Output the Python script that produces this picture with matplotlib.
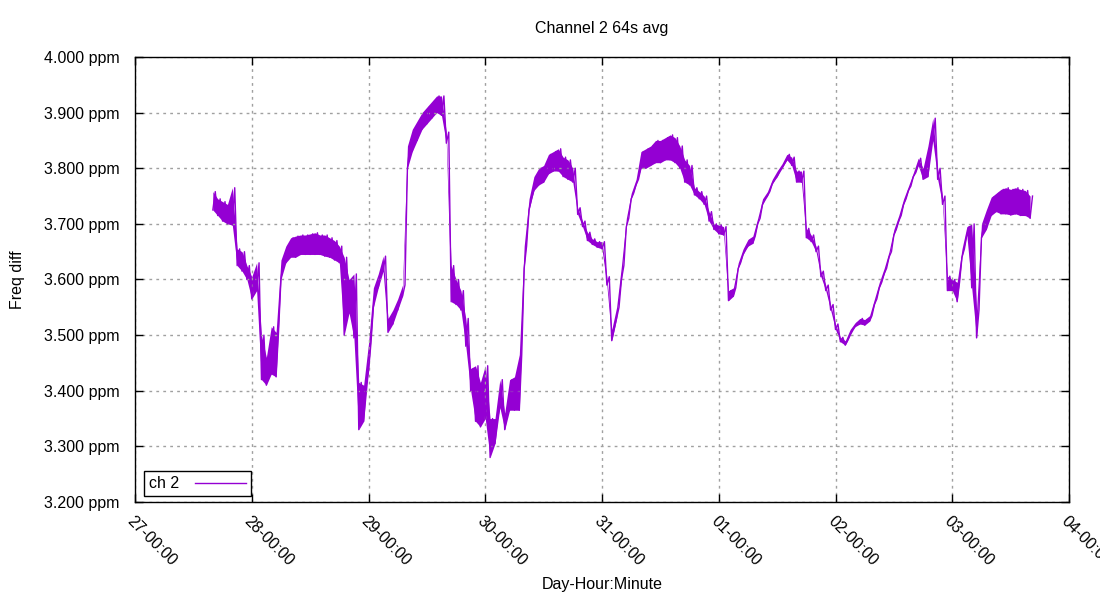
import numpy as np
import pandas as pd
import matplotlib
matplotlib.use("Agg")
import matplotlib.pyplot as plt
import matplotlib.dates as mdates

plt.rcParams["font.family"] = ["Liberation Sans", "DejaVu Sans"]

# -- hourly samples, hours since 27-00:00; each hour has a low and a high reading (noise band)
hours = list(range(16, 185))
ppm_lo = [
    3.725, 3.715, 3.705, 3.700, 3.698, 3.625, 3.615, 3.600, 3.565, 3.580,  # 16-25
    3.420, 3.410, 3.430, 3.425, 3.600, 3.630, 3.640, 3.640, 3.645, 3.645,  # 26-35
    3.645, 3.645, 3.645, 3.642, 3.640, 3.635, 3.630, 3.500, 3.540, 3.495,  # 36-45
    3.330, 3.345, 3.435, 3.550, 3.585, 3.615, 3.505, 3.520, 3.545, 3.570,  # 46-55
    3.800, 3.830, 3.850, 3.870, 3.880, 3.890, 3.900, 3.895, 3.845, 3.560,  # 56-65
    3.555, 3.545, 3.480, 3.400, 3.345, 3.335, 3.350, 3.280, 3.305, 3.370,  # 66-75
    3.330, 3.365, 3.365, 3.365, 3.620, 3.725, 3.760, 3.770, 3.775, 3.790,  # 76-85
    3.795, 3.795, 3.785, 3.780, 3.775, 3.717, 3.695, 3.670, 3.663, 3.658,  # 86-95
    3.655, 3.590, 3.490, 3.530, 3.600, 3.695, 3.745, 3.770, 3.800, 3.800,  # 96-105
    3.805, 3.810, 3.810, 3.815, 3.815, 3.810, 3.800, 3.775, 3.770, 3.752,  # 106-115
    3.745, 3.735, 3.705, 3.690, 3.682, 3.680, 3.562, 3.570, 3.620, 3.645,  # 116-125
    3.660, 3.665, 3.700, 3.735, 3.750, 3.772, 3.785, 3.800, 3.815, 3.805,  # 126-135
    3.775, 3.775, 3.675, 3.668, 3.650, 3.605, 3.580, 3.545, 3.510, 3.488,  # 136-145
    3.482, 3.500, 3.515, 3.520, 3.518, 3.525, 3.555, 3.585, 3.610, 3.640,  # 146-155
    3.680, 3.705, 3.735, 3.760, 3.785, 3.805, 3.780, 3.785, 3.850, 3.780,  # 156-165
    3.735, 3.580, 3.580, 3.560, 3.640, 3.680, 3.585, 3.495, 3.675, 3.690,  # 166-175
    3.715, 3.722, 3.718, 3.718, 3.716, 3.718, 3.715, 3.715, 3.710,         # 176-184
]
ppm_hi = [
    3.758, 3.745, 3.740, 3.735, 3.765, 3.655, 3.650, 3.625, 3.605, 3.630,  # 16-25
    3.500, 3.460, 3.515, 3.505, 3.635, 3.660, 3.675, 3.678, 3.680, 3.680,  # 26-35
    3.682, 3.684, 3.680, 3.680, 3.675, 3.670, 3.660, 3.640, 3.600, 3.610,  # 36-45
    3.415, 3.410, 3.485, 3.585, 3.610, 3.642, 3.530, 3.545, 3.565, 3.590,  # 46-55
    3.840, 3.870, 3.885, 3.900, 3.910, 3.920, 3.930, 3.930, 3.865, 3.625,  # 56-65
    3.600, 3.580, 3.530, 3.440, 3.445, 3.415, 3.445, 3.350, 3.350, 3.420,  # 66-75
    3.360, 3.420, 3.425, 3.465, 3.660, 3.745, 3.785, 3.800, 3.805, 3.825,  # 76-85
    3.830, 3.835, 3.820, 3.815, 3.800, 3.729, 3.705, 3.685, 3.673, 3.668,  # 86-95
    3.668, 3.605, 3.510, 3.550, 3.625, 3.710, 3.755, 3.780, 3.830, 3.835,  # 96-105
    3.840, 3.850, 3.850, 3.855, 3.860, 3.855, 3.840, 3.815, 3.805, 3.765,  # 106-115
    3.758, 3.750, 3.722, 3.700, 3.698, 3.695, 3.580, 3.585, 3.630, 3.655,  # 116-125
    3.672, 3.678, 3.710, 3.745, 3.758, 3.780, 3.795, 3.808, 3.825, 3.820,  # 126-135
    3.795, 3.795, 3.692, 3.680, 3.660, 3.615, 3.590, 3.555, 3.520, 3.496,  # 136-145
    3.490, 3.510, 3.522, 3.530, 3.528, 3.535, 3.565, 3.595, 3.620, 3.650,  # 146-155
    3.690, 3.715, 3.745, 3.768, 3.792, 3.818, 3.800, 3.840, 3.890, 3.800,  # 156-165
    3.750, 3.606, 3.600, 3.595, 3.655, 3.695, 3.700, 3.545, 3.700, 3.725,  # 166-175
    3.748, 3.755, 3.762, 3.765, 3.762, 3.765, 3.762, 3.760, 3.750,         # 176-184
]

day_labels_start = "2023-07-27"
day_labels_end = "2023-08-04"
series_name = "ch 2"
line_color = "#9400d3"

# -- interleave low (on the hour) and high (on the half hour) readings
base = pd.Timestamp(day_labels_start)
t_lo = base + pd.to_timedelta(hours, unit="h")
t_hi = t_lo + pd.Timedelta(minutes=30)
times = np.empty(2 * len(hours), dtype="datetime64[ns]")
times[0::2] = t_lo.values
times[1::2] = t_hi.values
values = np.empty(2 * len(hours))
values[0::2] = ppm_lo
values[1::2] = ppm_hi

fig = plt.figure(figsize=(11, 6), dpi=100)
ax = fig.add_axes([135 / 1100, 1 - 502 / 600, 934 / 1100, 445 / 600])

# -- noise band, then the trace on top
ax.fill_between(t_lo, ppm_lo, ppm_hi, color=line_color, lw=0)
ax.plot(times, values, color=line_color, lw=1.0, label=series_name)

ax.set_xlim(pd.Timestamp(day_labels_start), pd.Timestamp(day_labels_end))
ax.set_ylim(3.2, 4.0)
ax.set_yticks(np.arange(3.2, 4.001, 0.1))
ax.yaxis.set_major_formatter(plt.FuncFormatter(lambda v, p: f"{v:.3f} ppm"))
ax.xaxis.set_major_locator(mdates.DayLocator())
ax.xaxis.set_major_formatter(mdates.DateFormatter("%d-%H:%M"))

ax.grid(True, color="#a0a0a0", linestyle=(0, (2, 3)), lw=1)
ax.tick_params(direction="in", length=6, width=1, top=True, right=True, labelsize=11.5)
ax.tick_params(axis="y", pad=11)
ax.tick_params(axis="x", pad=8)
for lbl in ax.get_xticklabels():
    lbl.set_rotation(-45)
    lbl.set_ha("left")
    lbl.set_va("top")
    lbl.set_rotation_mode("anchor")
for sp in ax.spines.values():
    sp.set_linewidth(1)

ax.set_title("Channel 2 64s avg", fontsize=11.5, pad=17)
ax.set_xlabel("Day-Hour:Minute", fontsize=11.5, labelpad=6)
ax.set_ylabel("Freq diff", fontsize=11.5, labelpad=14)

leg = ax.legend(loc="lower left", bbox_to_anchor=(9 / 934, 6 / 445), borderaxespad=0,
                markerfirst=False, fancybox=False, framealpha=1, edgecolor="black",
                fontsize=11.5, handlelength=3.2, borderpad=0.3, handletextpad=1.0)
leg.get_frame().set_linewidth(1)

fig.savefig("out.png", dpi=100)
